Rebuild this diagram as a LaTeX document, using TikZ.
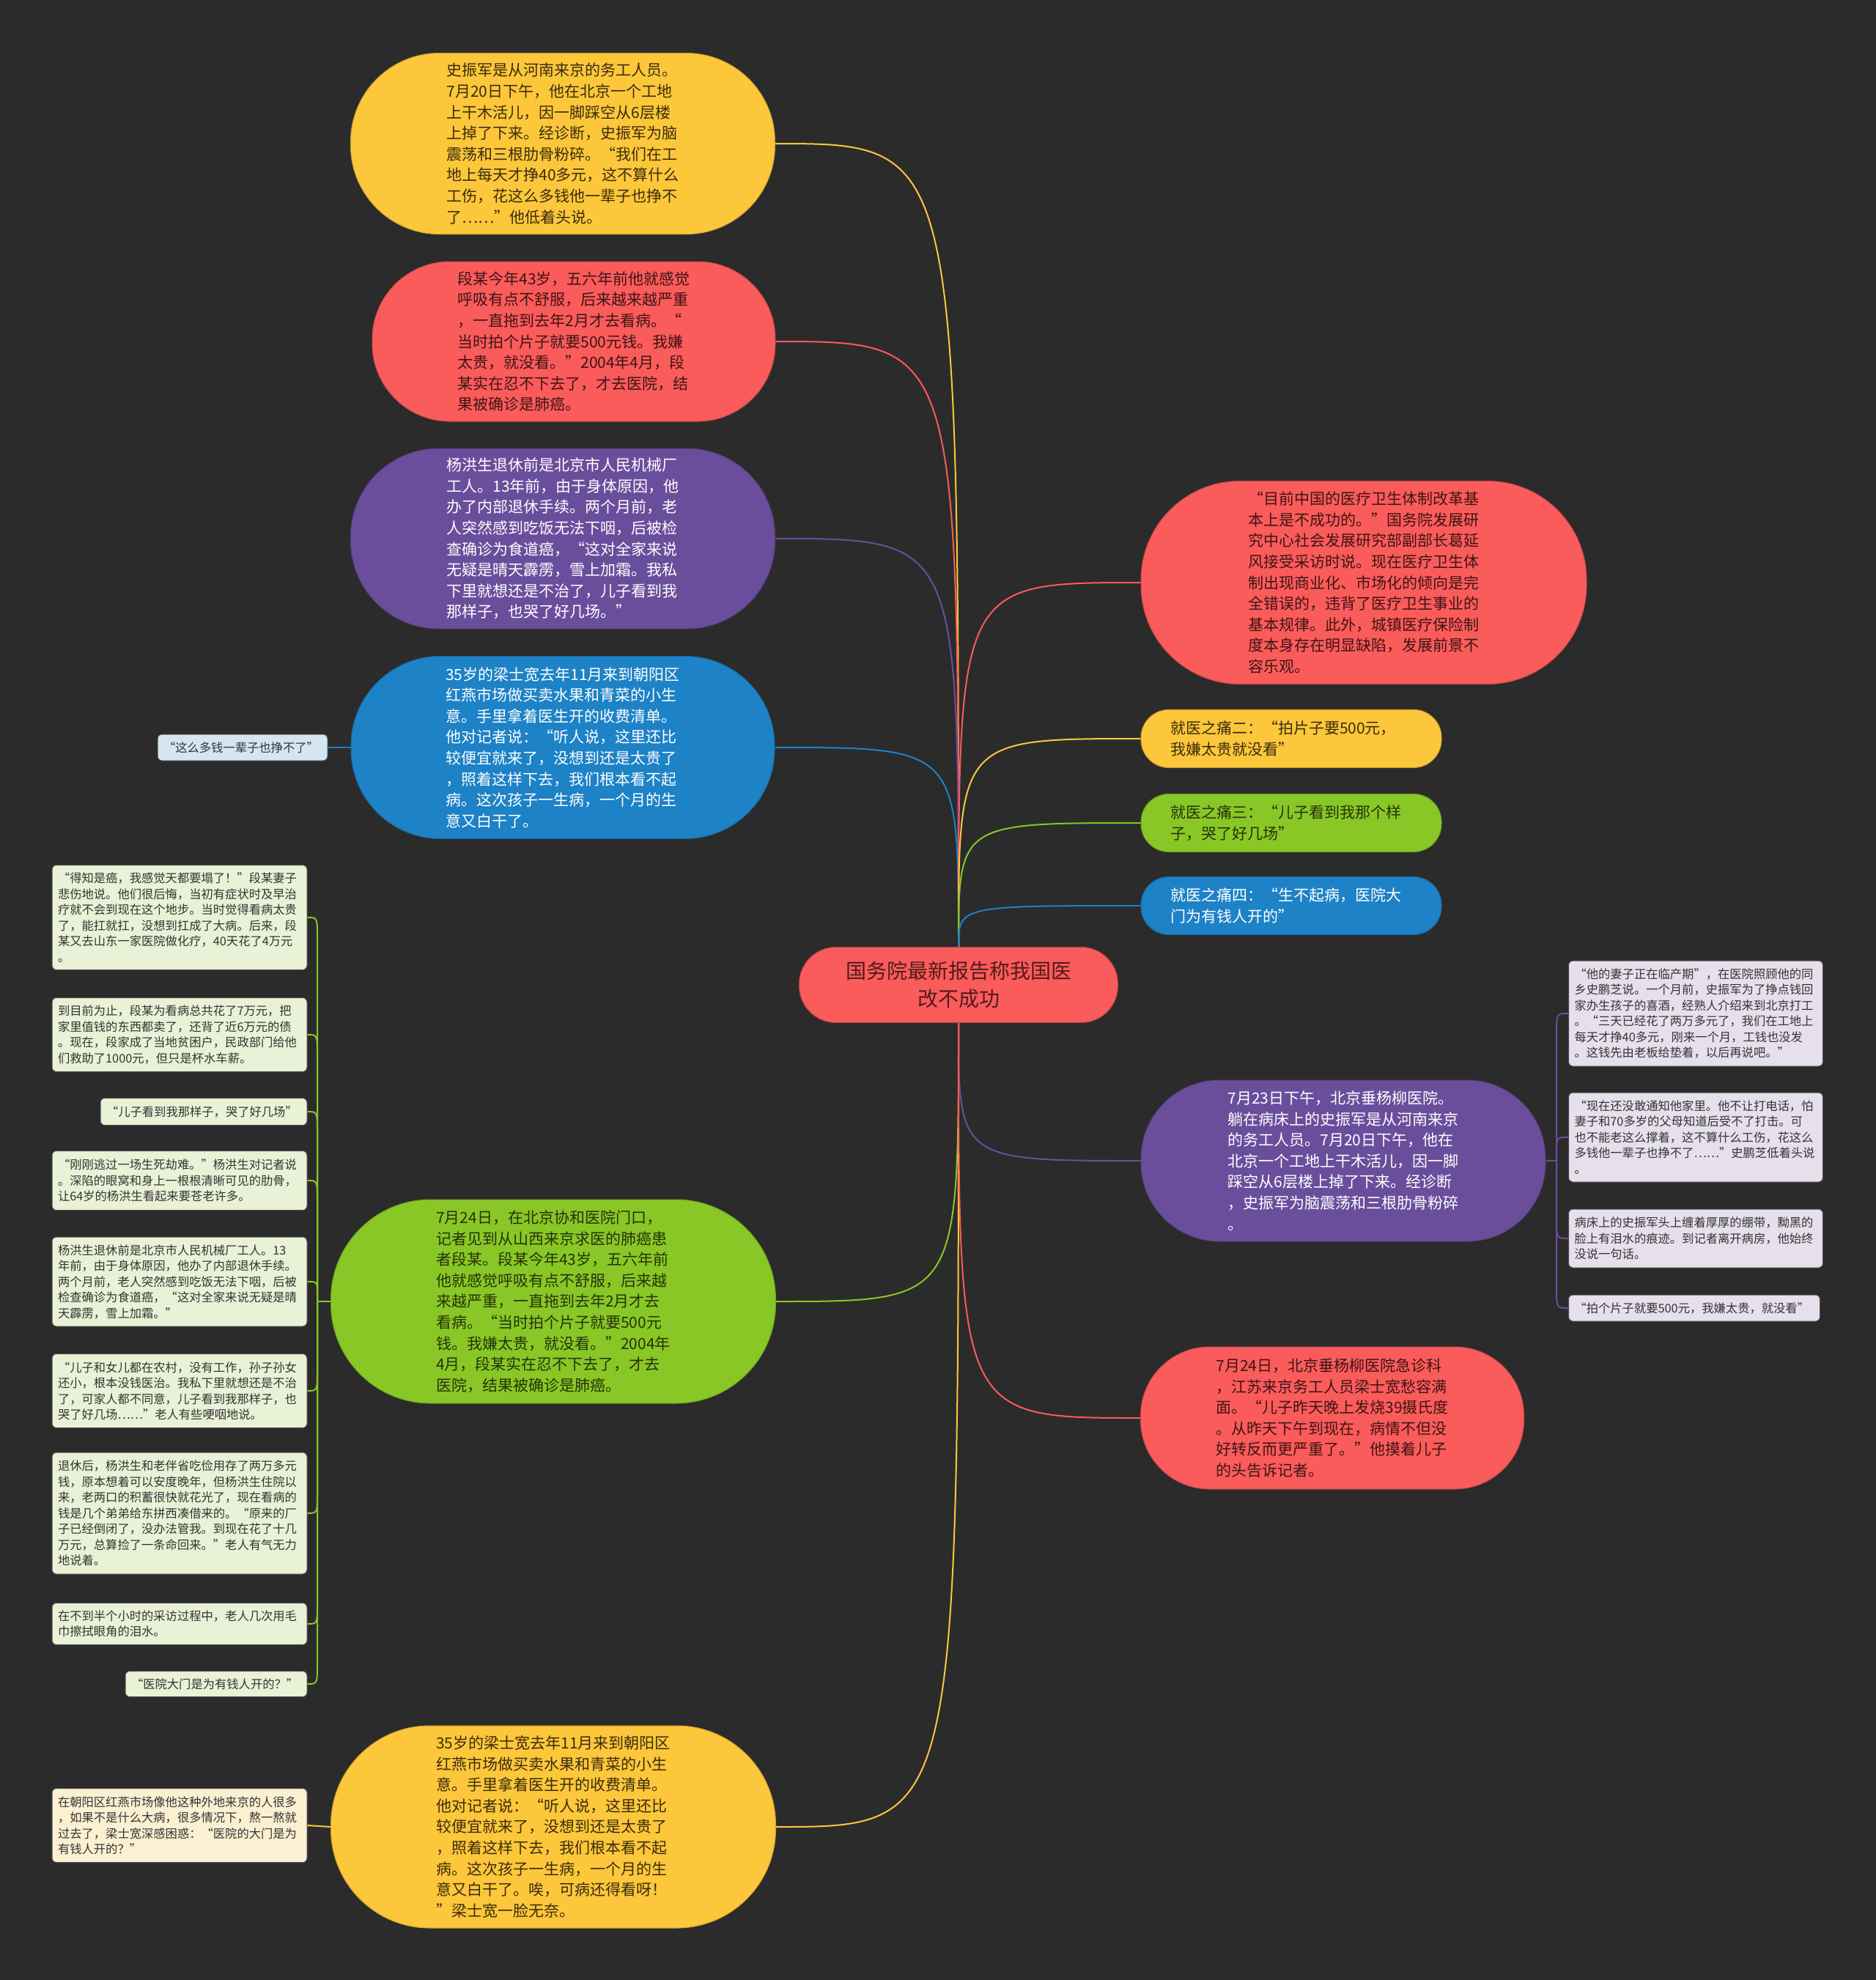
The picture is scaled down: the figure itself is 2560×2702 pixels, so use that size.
\documentclass[tikz,border=0pt]{standalone}
\usepackage{fontspec}
\setmainfont{Noto Sans CJK SC}
\usetikzlibrary{calc}
\definecolor{bg}{HTML}{2B2B2B}
\definecolor{cY}{HTML}{FDC73B}
\definecolor{cR}{HTML}{FA5B5B}
\definecolor{cP}{HTML}{6A4E9C}
\definecolor{cB}{HTML}{1D82C6}
\definecolor{cG}{HTML}{88C726}
\definecolor{tY}{HTML}{3A2C0C}
\definecolor{tR}{HTML}{3E1414}
\definecolor{tG}{HTML}{263208}
\definecolor{lG}{HTML}{E9F1D6}
\definecolor{lP}{HTML}{E5E0EC}
\definecolor{lB}{HTML}{D5E6F2}
\definecolor{lY}{HTML}{FBF0D2}
\definecolor{tL}{HTML}{333333}
\newcommand{\fbig}{\fontsize{21}{28.6}\selectfont}
\newcommand{\fleaf}{\fontsize{16.3}{21.5}\selectfont}
\newcommand{\froot}{\fontsize{28}{38}\selectfont}
\tikzset{
  mainbox/.style={align=left, font=\fbig, inner sep=0pt, fill=#1, draw=#1!80!black, line width=1pt},
  smallbox/.style={align=left, font=\fbig, inner sep=0pt, fill=#1, draw=#1!80!black, line width=1pt,
    text width=330pt, minimum width=410pt, minimum height=79pt, rounded corners=38pt},
  leaf/.style={align=left, font=\fleaf, inner xsep=8pt, inner ysep=0pt, fill=#1, draw=black!70,
    line width=1pt, rounded corners=6pt, text=tL},
  link/.style={draw=#1, line width=2pt},
}
\begin{document}
\begin{tikzpicture}[x=1pt,y=-1pt]
\path[fill=bg] (0,0) rectangle (2560,2702);
\useasboundingbox (0,0) rectangle (2560,2702);

% center
\node[fill=cR, draw=cR!70!black, line width=1pt, text=tR!90!cR, font=\froot, align=center,
  minimum width=435pt, minimum height=103pt, rounded corners=50pt, inner sep=0pt] (c) at (1308,1344)
  {国务院最新报告称我国医\\改不成功};

% left main nodes
\node[mainbox=cY, text=tY, minimum width=579pt, minimum height=247pt, rounded corners=121pt] (n1) at (768,196)
{史振军是从河南来京的务工人员。\\7月20日下午，他在北京一个工地\\上干木活儿，因一脚踩空从6层楼\\上掉了下来。经诊断，史振军为脑\\震荡和三根肋骨粉碎。“我们在工\\地上每天才挣40多元，这不算什么\\工伤，花这么多钱他一辈子也挣不\\了……”他低着头说。};

\node[mainbox=cR, text=tR, minimum width=550pt, minimum height=218pt, rounded corners=106pt] (n2) at (783,466)
{段某今年43岁，五六年前他就感觉\\呼吸有点不舒服，后来越来越严重\\，一直拖到去年2月才去看病。“\\当时拍个片子就要500元钱。我嫌\\太贵，就没看。”2004年4月，段\\某实在忍不下去了，才去医院，结\\果被确诊是肺癌。};

\node[mainbox=cP, text=white, minimum width=579pt, minimum height=246pt, rounded corners=120pt] (n3) at (768,735)
{杨洪生退休前是北京市人民机械厂\\工人。13年前，由于身体原因，他\\办了内部退休手续。两个月前，老\\人突然感到吃饭无法下咽，后被检\\查确诊为食道癌，“这对全家来说\\无疑是晴天霹雳，雪上加霜。我私\\下里就想还是不治了，儿子看到我\\那样子，也哭了好几场。”};

\node[mainbox=cB, text=white, minimum width=578pt, minimum height=249pt, rounded corners=122pt] (n4) at (768,1020)
{35岁的梁士宽去年11月来到朝阳区\\红燕市场做买卖水果和青菜的小生\\意。手里拿着医生开的收费清单。\\他对记者说：“听人说，这里还比\\较便宜就来了，没想到还是太贵了\\，照着这样下去，我们根本看不起\\病。这次孩子一生病，一个月的生\\意又白干了。};

\node[mainbox=cG, text=tG, minimum width=607pt, minimum height=278pt, rounded corners=136pt] (n5) at (755,1776)
{7月24日，在北京协和医院门口，\\记者见到从山西来京求医的肺癌患\\者段某。段某今年43岁，五六年前\\他就感觉呼吸有点不舒服，后来越\\来越严重，一直拖到去年2月才去\\看病。“当时拍个片子就要500元\\钱。我嫌太贵，就没看。”2004年\\4月，段某实在忍不下去了，才去\\医院，结果被确诊是肺癌。};

\node[mainbox=cY, text=tY, minimum width=607pt, minimum height=276pt, rounded corners=135pt] (n6) at (755,2493)
{35岁的梁士宽去年11月来到朝阳区\\红燕市场做买卖水果和青菜的小生\\意。手里拿着医生开的收费清单。\\他对记者说：“听人说，这里还比\\较便宜就来了，没想到还是太贵了\\，照着这样下去，我们根本看不起\\病。这次孩子一生病，一个月的生\\意又白干了。唉，可病还得看呀！\\”梁士宽一脸无奈。};

% right main nodes
\node[mainbox=cR, text=tR, minimum width=608pt, minimum height=277pt, rounded corners=135pt] (r1) at (1861,795)
{“目前中国的医疗卫生体制改革基\\本上是不成功的。”国务院发展研\\究中心社会发展研究部副部长葛延\\风接受采访时说。现在医疗卫生体\\制出现商业化、市场化的倾向是完\\全错误的，违背了医疗卫生事业的\\基本规律。此外，城镇医疗保险制\\度本身存在明显缺陷，发展前景不\\容乐观。};

\node[smallbox=cY, text=tY] (r2) at (1762,1008) {就医之痛二：“拍片子要500元，\\我嫌太贵就没看”};
\node[smallbox=cG, text=tG] (r3) at (1762,1123) {就医之痛三：“儿子看到我那个样\\子，哭了好几场”};
\node[smallbox=cB, text=white] (r4) at (1762,1236) {就医之痛四：“生不起病，医院大\\门为有钱人开的”};

\node[mainbox=cP, text=white, minimum width=552pt, minimum height=220pt, rounded corners=107pt] (r5) at (1833,1584)
{7月23日下午，北京垂杨柳医院。\\躺在病床上的史振军是从河南来京\\的务工人员。7月20日下午，他在\\北京一个工地上干木活儿，因一脚\\踩空从6层楼上掉了下来。经诊断\\，史振军为脑震荡和三根肋骨粉碎\\。};

\node[mainbox=cR, text=tR, minimum width=523pt, minimum height=194pt, rounded corners=94pt] (r6) at (1818,1935)
{7月24日，北京垂杨柳医院急诊科\\，江苏来京务工人员梁士宽愁容满\\面。“儿子昨天晚上发烧39摄氏度\\。从昨天下午到现在，病情不但没\\好转反而更严重了。”他摸着儿子\\的头告诉记者。};

% leaves
\node[leaf=lB, text width=216pt, minimum height=36pt] (lb) at (331,1020) {“这么多钱一辈子也挣不了”};

\node[leaf=lP, text width=331pt, minimum height=144pt] (l1) at (2314,1383)
{“他的妻子正在临产期”，在医院照顾他的同\\乡史鹏芝说。一个月前，史振军为了挣点钱回\\家办生孩子的喜酒，经熟人介绍来到北京打工\\。“三天已经花了两万多元了，我们在工地上\\每天才挣40多元，刚来一个月，工钱也没发\\。这钱先由老板给垫着，以后再说吧。”};
\node[leaf=lP, text width=331pt, minimum height=122pt] (l2) at (2314,1552)
{“现在还没敢通知他家里。他不让打电话，怕\\妻子和70多岁的父母知道后受不了打击。可\\也不能老这么撑着，这不算什么工伤，花这么\\多钱他一辈子也挣不了……”史鹏芝低着头说\\。};
\node[leaf=lP, text width=331pt, minimum height=80pt] (l3) at (2314,1690)
{病床上的史振军头上缠着厚厚的绷带，黝黑的\\脸上有泪水的痕迹。到记者离开病房，他始终\\没说一句话。};
\node[leaf=lP, text width=327pt, minimum height=36pt] (l4) at (2312,1785)
{“拍个片子就要500元，我嫌太贵，就没看”};

\node[leaf=lG, text width=332pt, minimum height=143pt] (g1) at (245,1252)
{“得知是癌，我感觉天都要塌了！”段某妻子\\悲伤地说。他们很后悔，当初有症状时及早治\\疗就不会到现在这个地步。当时觉得看病太贵\\了，能扛就扛，没想到扛成了大病。后来，段\\某又去山东一家医院做化疗，40天花了4万元\\。};
\node[leaf=lG, text width=332pt, minimum height=101pt] (g2) at (245,1412)
{到目前为止，段某为看病总共花了7万元，把\\家里值钱的东西都卖了，还背了近6万元的债\\。现在，段家成了当地贫困户，民政部门给他\\们救助了1000元，但只是杯水车薪。};
\node[leaf=lG, text width=266pt, minimum height=37pt] (g3) at (278,1517)
{“儿子看到我那样子，哭了好几场”};
\node[leaf=lG, text width=332pt, minimum height=81pt] (g4) at (245,1611)
{“刚刚逃过一场生死劫难。”杨洪生对记者说\\。深陷的眼窝和身上一根根清晰可见的肋骨，\\让64岁的杨洪生看起来要苍老许多。};
\node[leaf=lG, text width=332pt, minimum height=122pt] (g5) at (245,1749)
{杨洪生退休前是北京市人民机械厂工人。13\\年前，由于身体原因，他办了内部退休手续。\\两个月前，老人突然感到吃饭无法下咽，后被\\检查确诊为食道癌，“这对全家来说无疑是晴\\天霹雳，雪上加霜。”};
\node[leaf=lG, text width=332pt, minimum height=101pt] (g6) at (245,1898)
{“儿子和女儿都在农村，没有工作，孙子孙女\\还小，根本没钱医治。我私下里就想还是不治\\了，可家人都不同意，儿子看到我那样子，也\\哭了好几场……”老人有些哽咽地说。};
\node[leaf=lG, text width=332pt, minimum height=166pt] (g7) at (245,2065)
{退休后，杨洪生和老伴省吃俭用存了两万多元\\钱，原本想着可以安度晚年，但杨洪生住院以\\来，老两口的积蓄很快就花光了，现在看病的\\钱是几个弟弟给东拼西凑借来的。“原来的厂\\子已经倒闭了，没办法管我。到现在花了十几\\万元，总算捡了一条命回来。”老人有气无力\\地说着。};
\node[leaf=lG, text width=332pt, minimum height=57pt] (g8) at (245,2216)
{在不到半个小时的采访过程中，老人几次用毛\\巾擦拭眼角的泪水。};
\node[leaf=lG, text width=232pt, minimum height=35pt] (g9) at (295,2298)
{“医院大门是为有钱人开的？”};

\node[leaf=lY, text width=332pt, minimum height=101pt] (bl) at (245,2491)
{在朝阳区红燕市场像他这种外地来京的人很多\\，如果不是什么大病，很多情况下，熬一熬就\\过去了，梁士宽深感困惑：“医院的大门是为\\有钱人开的？”};

% main connectors
\draw[link=cY] (c.north) .. controls (c.north |- n1.east) .. (n1.east);
\draw[link=cR] (c.north) .. controls (c.north |- n2.east) .. (n2.east);
\draw[link=cP] (c.north) .. controls (c.north |- n3.east) .. (n3.east);
\draw[link=cB] (c.north) .. controls (c.north |- n4.east) .. (n4.east);
\draw[link=cG] (c.south) .. controls (c.south |- n5.east) .. (n5.east);
\draw[link=cY] (c.south) .. controls (c.south |- n6.east) .. (n6.east);
\draw[link=cR] (c.north) .. controls (c.north |- r1.west) .. (r1.west);
\draw[link=cY] (c.north) .. controls (c.north |- r2.west) .. (r2.west);
\draw[link=cG] (c.north) .. controls (c.north |- r3.west) .. (r3.west);
\draw[link=cB] (c.north) .. controls (c.north |- r4.west) .. (r4.west);
\draw[link=cP] (c.south) .. controls (c.south |- r5.west) .. (r5.west);
\draw[link=cR] (c.south) .. controls (c.south |- r6.west) .. (r6.west);

% leaf connectors
\draw[link=cB] (n4.west) -- (lb.east);
\draw[link=cY] (n6.west) -- (bl.east);

\coordinate (gj) at (433,1776);
\draw[link=cG] (n5.west) -- (gj);
\draw[link=cG] (gj) -- ($(gj |- g1.east)+(0,28)$) .. controls (gj |- g1.east) .. (g1.east);
\draw[link=cG] (gj) -- ($(gj |- g2.east)+(0,28)$) .. controls (gj |- g2.east) .. (g2.east);
\draw[link=cG] (gj) -- ($(gj |- g3.east)+(0,28)$) .. controls (gj |- g3.east) .. (g3.east);
\draw[link=cG] (gj) -- ($(gj |- g4.east)+(0,28)$) .. controls (gj |- g4.east) .. (g4.east);
\draw[link=cG] (gj) -- ($(gj |- g5.east)+(0,18)$) .. controls (gj |- g5.east) .. (g5.east);
\draw[link=cG] (gj) -- ($(gj |- g6.east)+(0,-28)$) .. controls (gj |- g6.east) .. (g6.east);
\draw[link=cG] (gj) -- ($(gj |- g7.east)+(0,-28)$) .. controls (gj |- g7.east) .. (g7.east);
\draw[link=cG] (gj) -- ($(gj |- g8.east)+(0,-28)$) .. controls (gj |- g8.east) .. (g8.east);
\draw[link=cG] (gj) -- ($(gj |- g9.east)+(0,-28)$) .. controls (gj |- g9.east) .. (g9.east);

\coordinate (pj) at (2124,1584);
\draw[link=cP] (r5.east) -- (pj);
\draw[link=cP] (pj) -- ($(pj |- l1.west)+(0,28)$) .. controls (pj |- l1.west) .. (l1.west);
\draw[link=cP] (pj) -- ($(pj |- l2.west)+(0,20)$) .. controls (pj |- l2.west) .. (l2.west);
\draw[link=cP] (pj) -- ($(pj |- l3.west)+(0,-28)$) .. controls (pj |- l3.west) .. (l3.west);
\draw[link=cP] (pj) -- ($(pj |- l4.west)+(0,-28)$) .. controls (pj |- l4.west) .. (l4.west);
\end{tikzpicture}
\end{document}
